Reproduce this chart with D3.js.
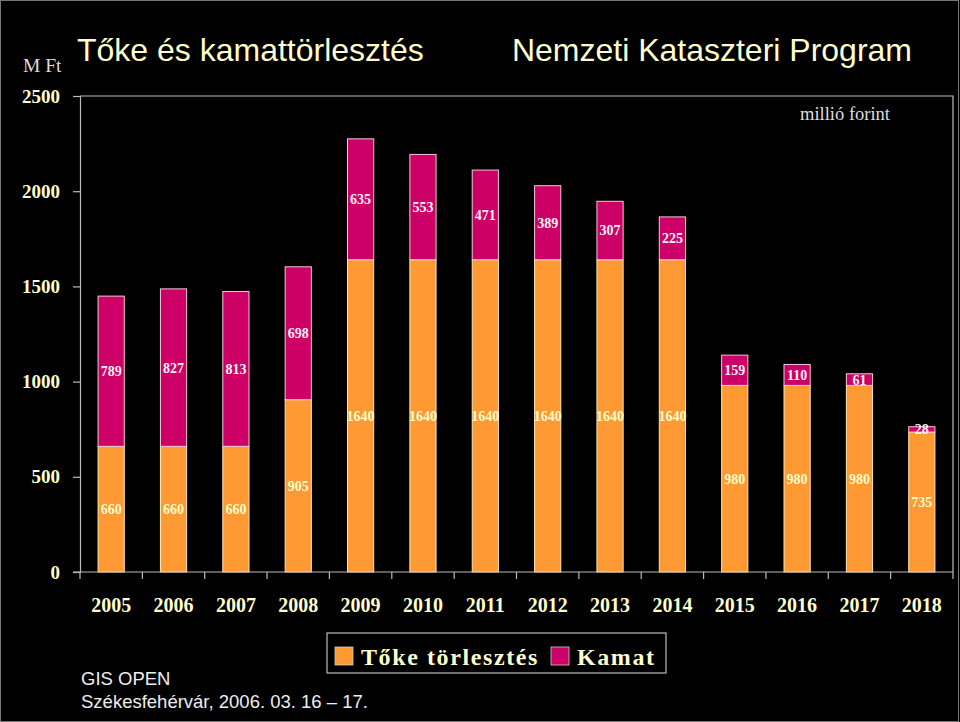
<!DOCTYPE html>
<html><head><meta charset="utf-8">
<script src="https://cdn.jsdelivr.net/npm/d3@7/dist/d3.min.js"></script>
<style>body{margin:0;background:#000}svg{display:block}</style>
</head><body><svg id="c" width="960" height="722"></svg>
<script>
const years = ["2005","2006","2007","2008","2009","2010","2011","2012","2013","2014","2015","2016","2017","2018"];
const toke  = [660,660,660,905,1640,1640,1640,1640,1640,1640,980,980,980,735];
const kamat = [789,827,813,698,635,553,471,389,307,225,159,110,61,28];
const yTicks = [0,500,1000,1500,2000,2500];
const seriesNames = ["Tőke törlesztés","Kamat"];
const colors = ["#FF9933","#CC0066"];
const cream = "#FFFFCC";

const svg = d3.select("#c");
svg.append("rect").attr("width",960).attr("height",722).attr("fill","#000");
svg.append("rect").attr("x",0.5).attr("y",0.5).attr("width",958).attr("height",721).attr("fill","none").attr("stroke","#777").attr("stroke-width",1);

const L=80,R=953,T=96,B=572;
const x = d3.scaleBand().domain(years).range([L,R]).paddingInner(0.58).paddingOuter(0.29);
const xb = d3.scaleBand().domain(years).range([L,R]);
const y = d3.scaleLinear().domain([0,2500]).range([B,T]);

// plot frame
svg.append("path").attr("d",`M${L},${T}H${R}V${B}`).attr("fill","none").attr("stroke","#BBBBBB").attr("stroke-width",1.2);

const data = years.map((yr,i)=>({yr, t:toke[i], k:kamat[i]}));
const g = svg.append("g");
g.selectAll("rect.t").data(data).join("rect").attr("class","t")
  .attr("x",d=>x(d.yr)).attr("width",x.bandwidth())
  .attr("y",d=>y(d.t)).attr("height",d=>y(0)-y(d.t))
  .attr("fill",colors[0]).attr("stroke","#FFE9B0").attr("stroke-width",1);
g.selectAll("rect.k").data(data).join("rect").attr("class","k")
  .attr("x",d=>x(d.yr)).attr("width",x.bandwidth())
  .attr("y",d=>y(d.t+d.k)).attr("height",d=>y(d.t)-y(d.t+d.k))
  .attr("fill",colors[1]).attr("stroke","#F0C8D8").attr("stroke-width",1);

const lab = svg.append("g").attr("font-family","'Liberation Serif','Times New Roman',serif").attr("font-weight","bold").attr("font-size",14).attr("text-anchor","middle");
lab.selectAll("text.t").data(data).join("text")
  .attr("x",d=>x(d.yr)+x.bandwidth()/2).attr("y",d=>(y(0)+y(d.t))/2).attr("dy","0.35em")
  .attr("fill",cream).text(d=>d.t);
lab.selectAll("text.k").data(data).join("text")
  .attr("x",d=>x(d.yr)+x.bandwidth()/2).attr("y",d=>(y(d.t)+y(d.t+d.k))/2).attr("dy","0.35em")
  .attr("fill","#FFF4F4").text(d=>d.k);

// y axis
const ya = svg.append("g").attr("transform",`translate(${L},0)`)
  .call(d3.axisLeft(y).tickValues(yTicks).tickFormat(d3.format("d")).tickSize(7).tickPadding(13));
ya.select(".domain").attr("stroke","#BBBBBB").attr("stroke-width",1.2);
ya.selectAll(".tick line").attr("stroke","#BBBBBB").attr("stroke-width",1.2);
ya.selectAll("text").attr("fill",cream).attr("font-family","'Liberation Serif','Times New Roman',serif")
  .attr("font-weight","bold").attr("font-size",19);

// x axis
const xa = svg.append("g").attr("transform",`translate(0,${B})`);
xa.append("line").attr("x1",L-7).attr("x2",R).attr("y1",0).attr("y2",0).attr("stroke","#BBBBBB").attr("stroke-width",1.2);
const bounds = years.map(yr=>xb(yr)).concat([R]);
xa.selectAll("line.tk").data(bounds).join("line").attr("class","tk")
  .attr("x1",d=>d).attr("x2",d=>d).attr("y1",0).attr("y2",7).attr("stroke","#BBBBBB").attr("stroke-width",1.2);
xa.selectAll("text").data(years).join("text")
  .attr("x",d=>xb(d)+xb.bandwidth()/2).attr("y",40).attr("text-anchor","middle")
  .attr("fill",cream).attr("font-family","'Liberation Serif','Times New Roman',serif")
  .attr("font-weight","bold").attr("font-size",20).text(d=>d);

// titles
svg.append("text").attr("x",77).attr("y",61).attr("fill",cream).attr("font-family","'Liberation Sans',Arial,sans-serif")
  .attr("font-size",32).text("Tőke és kamattörlesztés");
svg.append("text").attr("x",912).attr("y",61).attr("text-anchor","end").attr("fill",cream).attr("font-family","'Liberation Sans',Arial,sans-serif")
  .attr("font-size",32).text("Nemzeti Kataszteri Program");
svg.append("text").attr("x",23).attr("y",72).attr("fill","#DDDDDD").attr("font-family","'Liberation Serif','Times New Roman',serif")
  .attr("font-size",19.5).text("M Ft");
svg.append("text").attr("x",890).attr("y",120).attr("text-anchor","end").attr("fill","#DDDDDD").attr("font-family","'Liberation Serif','Times New Roman',serif")
  .attr("font-size",18.5).text("millió forint");

// legend
const lg = svg.append("g");
lg.append("rect").attr("x",327).attr("y",633).attr("width",339).attr("height",40).attr("fill","#000").attr("stroke","#BBBBBB").attr("stroke-width",1.2);
const lx = [335,551];
seriesNames.forEach((n,i)=>{
  lg.append("rect").attr("x",lx[i]).attr("y",647).attr("width",18).attr("height",18).attr("fill",colors[i]).attr("stroke","#CCCCCC").attr("stroke-width",0.8);
  lg.append("text").attr("x",lx[i]+26).attr("y",665).attr("fill",cream)
    .attr("font-family","'Liberation Serif','Times New Roman',serif").attr("font-weight","bold").attr("font-size",24)
    .attr("letter-spacing",1.6).text(n);
});

// footer
svg.append("text").attr("x",81).attr("y",685).attr("fill","#EEEEEE").attr("font-family","'Liberation Sans',Arial,sans-serif").attr("font-size",18.5).text("GIS OPEN");
svg.append("text").attr("x",81).attr("y",708).attr("fill","#EEEEEE").attr("font-family","'Liberation Sans',Arial,sans-serif").attr("font-size",18.5).text("Székesfehérvár, 2006. 03. 16 – 17.");
</script></body></html>
